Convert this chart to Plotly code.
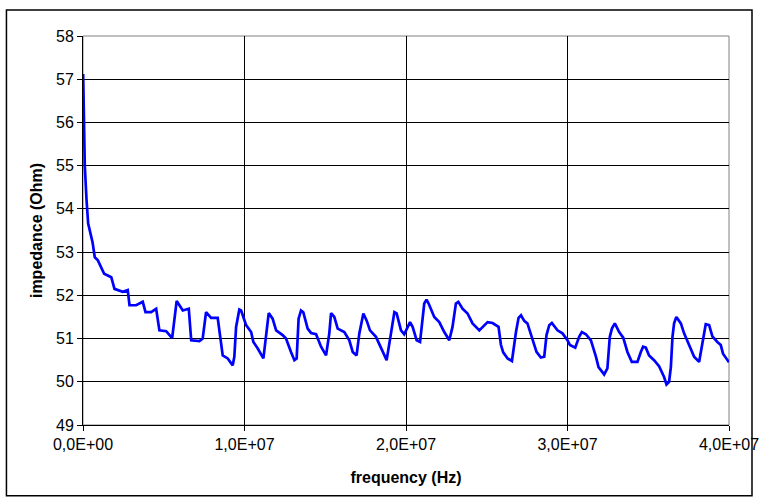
import plotly.graph_objects as go

# frequency in MHz, impedance in Ohm
freq_mhz = [0.01, 0.07, 0.11, 0.22, 0.32, 0.59, 0.73, 0.92, 1.13, 1.31, 1.75, 1.95, 2.46, 2.77, 2.88,
            3.29, 3.70, 3.87, 4.22, 4.53, 4.73, 5.15, 5.52, 5.80, 6.18, 6.55, 6.70, 7.21, 7.41, 7.62,
            7.93, 8.34, 8.65, 8.96, 9.27, 9.37, 9.48, 9.68, 9.79, 10.10, 10.41, 10.55, 10.82, 11.17,
            11.50, 11.74, 11.96, 12.36, 12.57, 12.78, 12.88, 13.09, 13.23, 13.35, 13.50, 13.64, 13.91,
            14.12, 14.43, 14.74, 15.05, 15.25, 15.36, 15.56, 15.77, 16.18, 16.49, 16.70, 16.94, 17.11,
            17.36, 17.56, 17.77, 18.14, 18.45, 18.80, 19.07, 19.28, 19.42, 19.69, 19.89, 20.25, 20.41,
            20.66, 20.87, 20.99, 21.13, 21.27, 21.40, 21.75, 22.06, 22.37, 22.68, 22.88, 23.09, 23.24,
            23.50, 23.81, 24.12, 24.54, 24.74, 25.05, 25.36, 25.73, 25.88, 26.02, 26.29, 26.56, 26.81,
            26.97, 27.12, 27.32, 27.52, 27.83, 28.08, 28.35, 28.56, 28.70, 28.87, 29.03, 29.38, 29.69,
            30.00, 30.15, 30.48, 30.72, 30.89, 31.14, 31.45, 31.76, 31.92, 32.27, 32.47, 32.62, 32.75,
            32.93, 33.20, 33.45, 33.71, 33.98, 34.33, 34.54, 34.68, 34.85, 35.05, 35.36, 35.67, 35.98,
            36.13, 36.29, 36.40, 36.50, 36.60, 36.74, 37.02, 37.22, 37.53, 37.84, 38.15, 38.40, 38.56,
            38.77, 38.97, 39.28, 39.49, 39.63, 39.90, 40.00]
impedance = [57.12, 56.05, 55.00, 54.20, 53.66, 53.23, 52.88, 52.81, 52.62, 52.50, 52.42, 52.15, 52.08, 52.12, 51.77,
             51.77, 51.85, 51.61, 51.61, 51.69, 51.19, 51.17, 51.01, 51.87, 51.65, 51.69, 50.96, 50.94, 51.00, 51.61,
             51.48, 51.48, 50.61, 50.54, 50.38, 50.58, 51.27, 51.67, 51.65, 51.31, 51.15, 50.92, 50.77, 50.54,
             51.59, 51.46, 51.19, 51.08, 51.00, 50.77, 50.69, 50.50, 50.54, 51.46, 51.65, 51.61, 51.23,
             51.13, 51.10, 50.81, 50.61, 51.12, 51.59, 51.50, 51.23, 51.15, 50.96, 50.69, 50.61, 51.12,
             51.58, 51.42, 51.19, 51.04, 50.77, 50.50, 51.12, 51.61, 51.58, 51.19, 51.10, 51.38, 51.27,
             50.96, 50.92, 51.27, 51.81, 51.90, 51.81, 51.50, 51.38, 51.15, 50.96, 51.27, 51.81, 51.85,
             51.69, 51.58, 51.35, 51.19, 51.27, 51.38, 51.36, 51.27, 50.85, 50.68, 50.54, 50.48, 51.15,
             51.48, 51.54, 51.41, 51.35, 51.00, 50.69, 50.56, 50.58, 51.08, 51.31, 51.36, 51.19, 51.12,
             50.96, 50.85, 50.79, 51.04, 51.15, 51.10, 50.96, 50.58, 50.34, 50.17, 50.31, 51.04, 51.23,
             51.35, 51.15, 51.02, 50.69, 50.46, 50.46, 50.69, 50.81, 50.79, 50.61, 50.50, 50.36, 50.11,
             49.94, 50.00, 50.34, 51.04, 51.35, 51.50, 51.35, 51.12, 50.85, 50.58, 50.46, 50.96, 51.33,
             51.31, 51.05, 50.92, 50.85, 50.65, 50.50, 50.45]

x_tickvals = [0, 1e7, 2e7, 3e7, 4e7]
x_ticktext = ["0,0E+00", "1,0E+07", "2,0E+07", "3,0E+07", "4,0E+07"]
y_tickvals = [49, 50, 51, 52, 53, 54, 55, 56, 57, 58]

freq_hz = [f * 1e6 for f in freq_mhz]

fig = go.Figure()
fig.add_trace(go.Scatter(x=freq_hz, y=impedance, mode="lines",
                         line=dict(color="#0000FF", width=2.7), showlegend=False))

fam = "Liberation Sans, Arial, sans-serif"
font = dict(family=fam, size=16, color="#000")

fig.update_layout(
    width=760, height=497,
    margin=dict(l=83, r=31, t=36, b=72),
    paper_bgcolor="white", plot_bgcolor="white",
    font=font,
    xaxis=dict(range=[0, 4e7], tickvals=x_tickvals, ticktext=x_ticktext,
               automargin=False,
               showgrid=True, gridcolor="#000", gridwidth=1,
               showline=True, linecolor="#000", linewidth=1,
               ticks="outside", ticklen=5, tickcolor="#000",
               zeroline=False, tickfont=font,
               title=dict(text="<b>frequency (Hz)</b>", font=dict(family=fam, size=16, color="#000"), standoff=19)),
    yaxis=dict(range=[49, 58], tickvals=y_tickvals,
               automargin=False,
               showgrid=True, gridcolor="#000", gridwidth=1,
               showline=True, linecolor="#000", linewidth=1,
               ticks="outside", ticklen=5, tickcolor="#000",
               zeroline=False, tickfont=font,
               title=dict(text="<b>impedance (Ohm)</b>", font=dict(family=fam, size=16, color="#000"), standoff=9)),
    shapes=[
        dict(type="rect", xref="paper", yref="paper", x0=0, x1=1, y0=0, y1=1,
             line=dict(color="#808080", width=1), layer="below"),
        dict(type="rect", xref="paper", yref="paper", x0=-0.1185, x1=1.0356, y0=-0.182, y1=1.0668,
             line=dict(color="#000", width=1.5)),
    ],
)

fig.write_html("out.html")
